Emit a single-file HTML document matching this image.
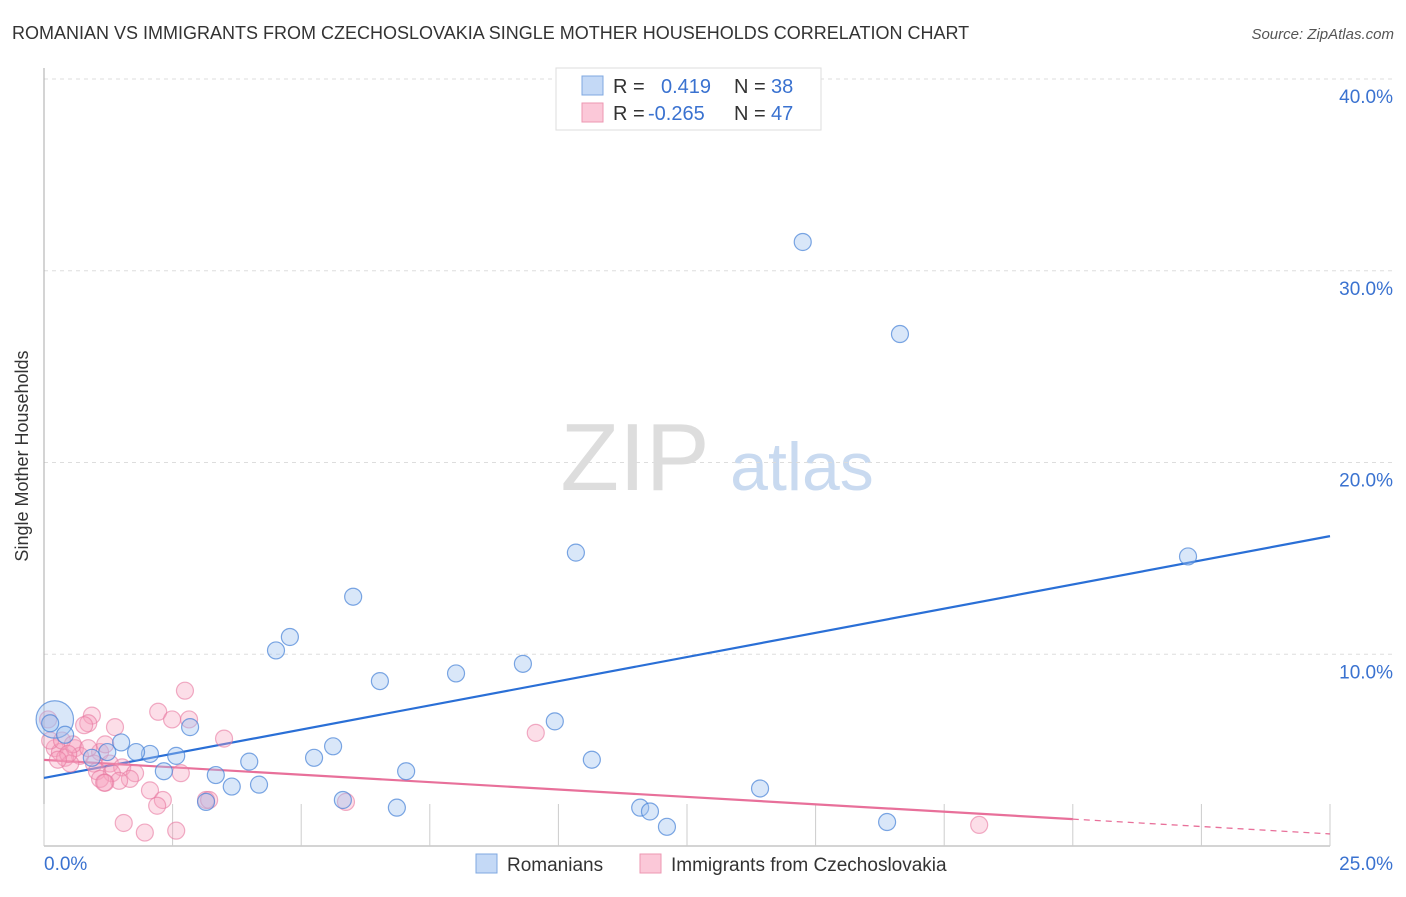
<!DOCTYPE html>
<html><head><meta charset="utf-8"><style>
body{margin:0;background:#fff;font-family:"Liberation Sans",sans-serif;}
svg text{font-family:"Liberation Sans",sans-serif;}
</style></head><body>
<svg id="chart" width="1406" height="892" xmlns="http://www.w3.org/2000/svg">
<text x="12" y="39" font-size="18" fill="#333">ROMANIAN VS IMMIGRANTS FROM CZECHOSLOVAKIA SINGLE MOTHER HOUSEHOLDS CORRELATION CHART</text>
<text x="1394" y="39" font-size="15" fill="#555" font-style="italic" text-anchor="end">Source: ZipAtlas.com</text>
<text x="28" y="456" font-size="18" fill="#333" text-anchor="middle" transform="rotate(-90 28 456)">Single Mother Households</text>
<g><text x="635" y="490" font-size="96" fill="#ddd" font-family="Liberation Serif" text-anchor="middle">ZIP</text><text x="802" y="490" font-size="68" fill="#c9daf0" text-anchor="middle">atlas</text></g>
<g id="grid"></g><g id="axes"></g><g id="lines"></g><g id="pts"></g>
<g>
<rect x="556" y="68" width="265" height="62" fill="#fff" stroke="#ddd"/>
<rect x="582" y="76" width="21" height="19" fill="#c4d9f6" stroke="#7fa8e0"/>
<rect x="582" y="103" width="21" height="19" fill="#fbc8d8" stroke="#ec97b2"/>
<text x="613" y="93" font-size="20" fill="#333">R =</text><text x="661" y="93" font-size="20" fill="#3a72d0">0.419</text>
<text x="734" y="93" font-size="20" fill="#333">N =</text><text x="771" y="93" font-size="20" fill="#3a72d0">38</text>
<text x="613" y="120" font-size="20" fill="#333">R =</text><text x="648" y="120" font-size="20" fill="#3a72d0">-0.265</text>
<text x="734" y="120" font-size="20" fill="#333">N =</text><text x="771" y="120" font-size="20" fill="#3a72d0">47</text>
</g>
<g>
<rect x="476" y="854" width="21" height="19" fill="#c4d9f6" stroke="#7fa8e0"/>
<text x="507" y="871" font-size="19" fill="#333">Romanians</text>
<rect x="640" y="854" width="21" height="19" fill="#fbc8d8" stroke="#ec97b2"/>
<text x="671" y="871" font-size="19" fill="#333">Immigrants from Czechoslovakia</text>
</g>
</svg>
<script>
const yTicks=[10,20,30,40];
const yTickLabels=["10.0%","20.0%","30.0%","40.0%"];
const xTicks=[0,2.5,5,7.5,10,12.5,15,17.5,20,22.5,25];
const blueX=[14.75,16.64,10.34,22.24,6.01,4.78,4.51,9.31,8.01,6.53,9.93,2.84,0.21,0.41,1.5,1.23,2.06,2.57,1.79,5.62,5.25,10.65,3.99,2.33,3.34,7.04,4.18,3.65,13.92,5.81,3.15,6.86,11.59,11.78,12.11,16.39,0.93,0.12];
const blueY=[31.5,26.7,15.3,15.1,13.0,10.9,10.2,9.5,9.0,8.6,6.5,6.2,6.6,5.8,5.4,4.9,4.8,4.7,4.9,5.2,4.6,4.5,4.4,3.9,3.7,3.9,3.2,3.1,3.0,2.4,2.3,2.0,2.0,1.8,1.0,1.25,4.6,6.4];
const blueSize=[1,1,1,1,1,1,1,1,1,1,1,1,2.2,1,1,1,1,1,1,1,1,1,1,1,1,1,1,1,1,1,1,1,1,1,1,1,1,1];
const pinkX=[2.74,2.22,0.93,2.49,0.86,0.78,1.38,2.82,3.5,9.56,0.21,0.31,0.6,0.7,1.09,1.19,0.41,0.51,0.97,1.28,1.52,1.03,1.32,1.77,2.66,1.09,1.67,1.46,1.19,2.06,2.31,2.2,3.15,3.21,5.87,1.55,1.96,2.57,18.18,0.08,0.12,0.35,0.56,0.86,0.47,0.27,1.17];
const pinkY=[8.1,7.0,6.8,6.6,6.4,6.3,6.2,6.6,5.6,5.9,5.1,4.9,5.1,4.7,4.9,5.3,4.6,4.3,4.3,4.3,4.1,3.9,3.8,3.8,3.8,3.5,3.5,3.4,3.3,2.9,2.4,2.1,2.4,2.4,2.3,1.2,0.7,0.8,1.1,6.6,5.5,5.5,5.3,5.1,4.8,4.5,3.3];
const blueTrend=[3.55,16.16];
const pinkTrend=[4.49,0.63];
const pinkSolidEnd=20;
const NS="http://www.w3.org/2000/svg";
const X0=44,X1=1330,Y0=846,Y40=79;
const sx=v=>X0+(X1-X0)*v/25;
const sy=v=>Y0-(Y0-Y40)*v/40;
function mk(t,a,p){const e=document.createElementNS(NS,t);for(const k in a)e.setAttribute(k,a[k]);p.appendChild(e);return e;}
const grid=document.getElementById('grid'),axes=document.getElementById('axes'),lines=document.getElementById('lines'),pts=document.getElementById('pts');
yTicks.forEach((v,i)=>{
 const l=mk('line',{x1:X0,x2:1394,y1:sy(v),y2:sy(v),stroke:'#ddd','stroke-dasharray':'4,4'},grid);
 
 
 const t=mk('text',{x:1393,y:sy(v)+24,'font-size':19,fill:'#3a72d0','text-anchor':'end'},axes);
 t.textContent=yTickLabels[i];
 
 
});
const ya=mk('line',{x1:X0,x2:X0,y1:68,y2:Y0,stroke:'#aaa'},axes);


const xa=mk('line',{x1:X0,x2:X1,y1:Y0,y2:Y0,stroke:'#aaa'},axes);


xTicks.forEach(v=>{
 const t=mk('line',{x1:sx(v),x2:sx(v),y1:Y0,y2:Y0-(v%5===0&&v>0&&v<25?42:42),stroke:'#ccc'},axes);
 
 
});
const xl0=mk('text',{x:44,y:870,'font-size':19,fill:'#3a72d0'},axes);xl0.textContent='0.0%';


const xl1=mk('text',{x:1393,y:870,'font-size':19,fill:'#3a72d0','text-anchor':'end'},axes);xl1.textContent='25.0%';


pinkX.forEach((v,i)=>{
 const c=mk('circle',{cx:sx(v),cy:sy(pinkY[i]),r:8.5,fill:'rgba(245,160,190,0.35)',stroke:'rgba(232,120,160,0.6)','stroke-width':1.2},pts);
 
 
});
blueX.forEach((v,i)=>{
 const c=mk('circle',{cx:sx(v),cy:sy(blueY[i]),r:8.5*blueSize[i],fill:'rgba(160,195,240,0.4)',stroke:'rgba(70,130,215,0.7)','stroke-width':1.2},pts);
 
 
});
const bt=mk('line',{x1:sx(0),y1:sy(blueTrend[0]),x2:sx(25),y2:sy(blueTrend[1]),stroke:'#2a6fd6','stroke-width':2.2},lines);


const pAt=x=>pinkTrend[0]+(pinkTrend[1]-pinkTrend[0])*x/25;
const pt=mk('line',{x1:sx(0),y1:sy(pAt(0)),x2:sx(pinkSolidEnd),y2:sy(pAt(pinkSolidEnd)),stroke:'#e8709a','stroke-width':2.2},lines);


const pd=mk('line',{x1:sx(pinkSolidEnd),y1:sy(pAt(pinkSolidEnd)),x2:sx(25),y2:sy(pAt(25)),stroke:'#e8709a','stroke-width':1.3,'stroke-dasharray':'6,5'},lines);


</script>
</body></html>
